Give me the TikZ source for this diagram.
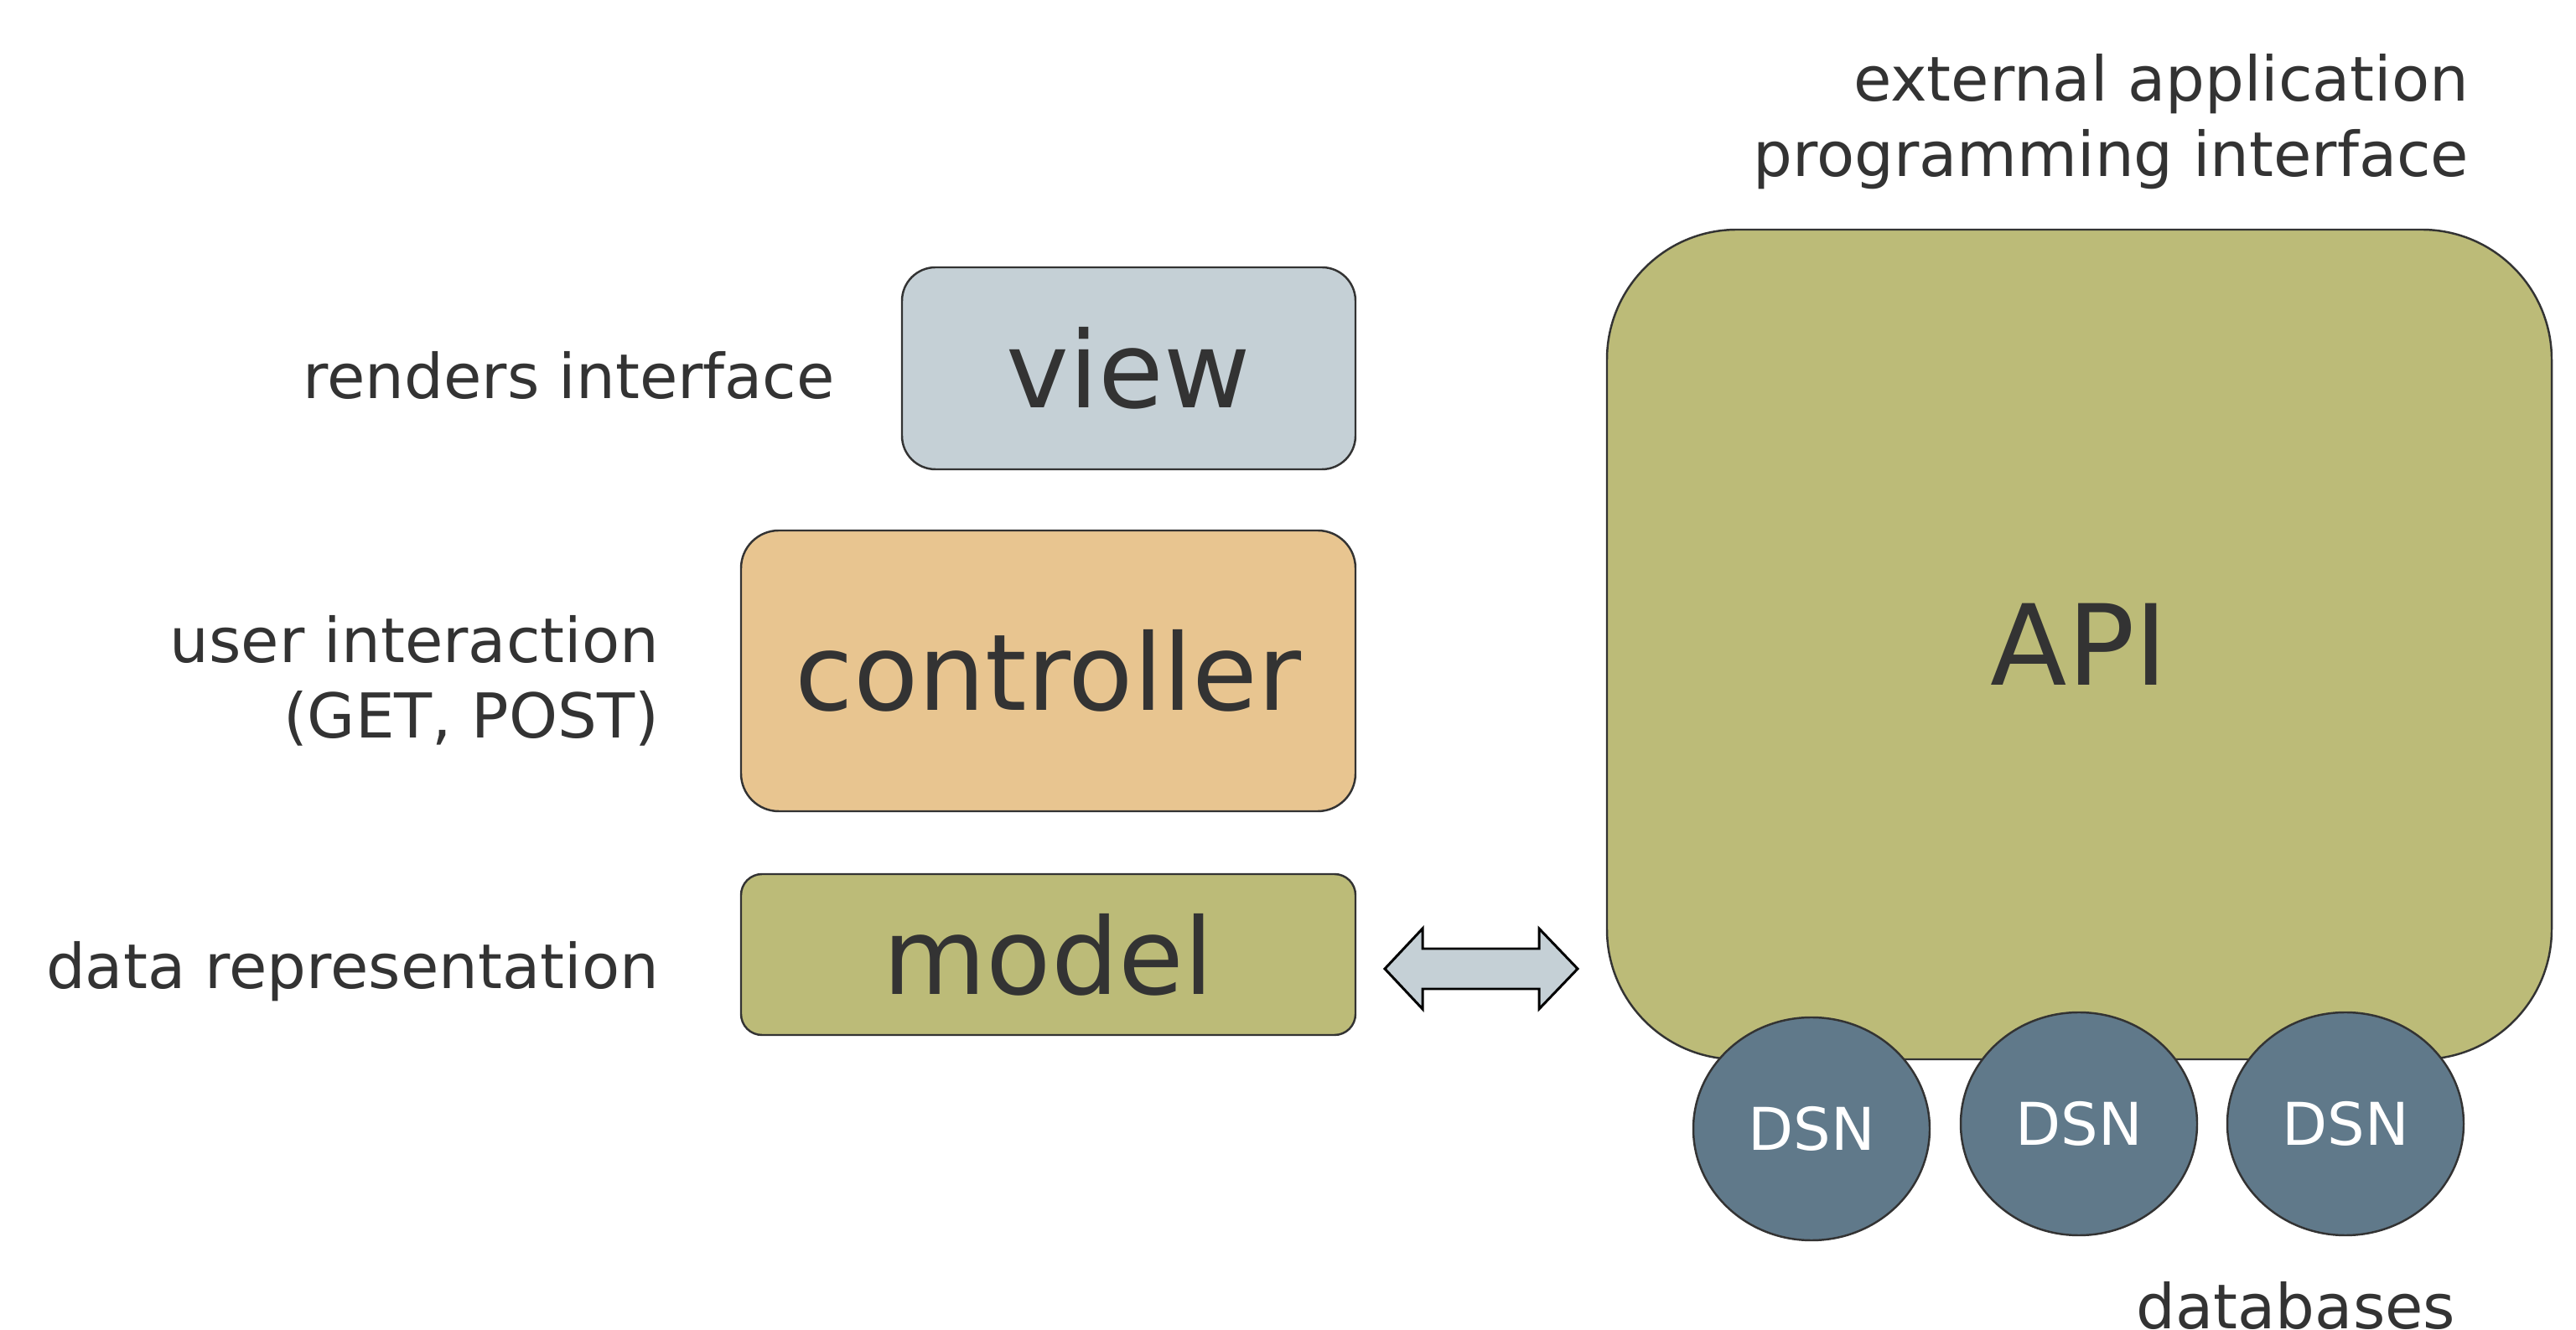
\documentclass[tikz,border=0pt]{standalone}
\usepackage{fontspec}
\setmainfont{DejaVu Sans}
\usetikzlibrary{positioning,shapes.geometric}

\definecolor{ink}{HTML}{333333}
\definecolor{viewblue}{HTML}{C5D0D6}
\definecolor{ctrlorange}{HTML}{E8C590}
\definecolor{modelgreen}{HTML}{BCBB78}
\definecolor{dsnblue}{HTML}{60798A}

\tikzset{
  block/.style={draw=ink, line width=0.7pt, text=ink, inner sep=0pt,
    font=\fontsize{36}{41}\selectfont},
  note/.style={text=ink, inner sep=0pt, align=right,
    font=\fontsize{21}{25.6}\selectfont},
  dsn/.style={ellipse, draw=ink, line width=0.7pt, fill=dsnblue, text=white,
    inner sep=0pt, minimum width=2.82cm, minimum height=2.66cm,
    font=\fontsize{20}{23}\selectfont},
}

\begin{document}
\begin{tikzpicture}
  \useasboundingbox (0,0) rectangle (30.73,15.87);

  % MVC stack
  \node [block, fill=viewblue, rounded corners=0.4cm,
         minimum width=5.41cm, minimum height=2.41cm] (view) at (13.465,11.475) {view};
  \node [block, fill=ctrlorange, rounded corners=0.45cm,
         minimum width=7.33cm, minimum height=3.35cm] (controller) at (12.505,7.865) {controller};
  \node [block, fill=modelgreen, rounded corners=0.25cm,
         minimum width=7.33cm, minimum height=1.92cm] (model) at (12.505,4.48) {model};

  \node [note, left=0.78cm of view, yshift=-0.08cm] (rendersnote) {renders interface};
  \node [note, left=0.96cm of controller, yshift=-0.12cm] (usernote) {user interaction\\(GET, POST)};
  \node [note, left=0.96cm of model, yshift=-0.20cm] (datanote) {data representation};

  % API side
  \node [block, fill=modelgreen, rounded corners=1.55cm,
         minimum width=11.27cm, minimum height=9.90cm,
         font=\fontsize{38}{43}\selectfont] (api) at (24.805,8.18) {API};
  \node [note, anchor=south east] (apinote) at (29.46,13.60) {external application\\programming interface};

  \node [dsn] (dsn1) at (21.61,2.40) {DSN};
  \node [dsn] (dsn2) at (24.80,2.46) {DSN};
  \node [dsn] (dsn3) at (27.98,2.46) {DSN};
  \node [note, anchor=east] (dbnote) at (29.30,0.29) {databases};

  % two-way link between model and API
  \coordinate (link) at (17.67,4.31);
  \draw [black, line width=0.85pt, fill=viewblue, line join=miter]
    (link) ++(-1.15,0) -- ++(0.45,0.48) -- ++(0,-0.24) -- ++(1.39,0)
    -- ++(0,0.24) -- ++(0.46,-0.48) -- ++(-0.46,-0.48) -- ++(0,0.24)
    -- ++(-1.39,0) -- ++(0,-0.24) -- cycle;
\end{tikzpicture}
\end{document}
